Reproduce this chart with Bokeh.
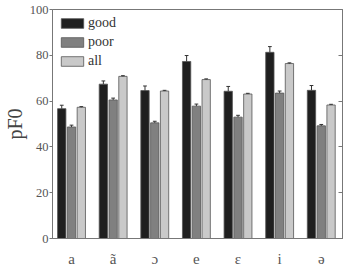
from bokeh.plotting import figure
from bokeh.models import Range1d, FixedTicker, LinearAxis, ColumnDataSource, Legend, LegendItem
from bokeh.embed import file_html
from bokeh.resources import INLINE

categories = ["a", "ã", "ɔ", "e", "ɛ", "i", "ə"]
good = [56.7, 67.4, 64.6, 77.3, 64.3, 81.3, 64.7]
poor = [48.7, 60.5, 50.5, 57.8, 53.0, 63.5, 49.2]
all_ = [57.3, 70.8, 64.4, 69.4, 63.1, 76.4, 58.3]
good_err = [1.5, 1.4, 2.0, 2.6, 2.1, 2.5, 2.1]
poor_err = [0.8, 0.8, 0.7, 0.9, 0.8, 0.9, 0.6]
all_err = [0.3, 0.3, 0.3, 0.3, 0.3, 0.3, 0.3]
series_names = ["good", "poor", "all"]
yticks = [0, 20, 40, 60, 80, 100]

FONT = "Liberation Serif"
TXT = "#555555"

p = figure(width=344, height=269, output_backend="svg", toolbar_location=None,
           x_range=Range1d(0.543, 7.51), y_range=Range1d(0, 100),
           min_border_left=52, min_border_right=2, min_border_top=9, min_border_bottom=29)
p.xgrid.visible = False
p.ygrid.visible = False
p.outline_line_color = "#777777"
p.outline_line_width = 1

xs = list(range(1, len(categories) + 1))
offsets = [-0.235, 0.0, 0.235]
fills = ["#1f1f1f", "#808080", "#c9c9c9"]
series = [good, poor, all_]
errs = [good_err, poor_err, all_err]
w = 0.2
capw = 0.045
items = []
for name, vals, err, off, col in zip(series_names, series, errs, offsets, fills):
    xx = [x + off for x in xs]
    src = ColumnDataSource(dict(x=xx, top=vals, up=[v + e for v, e in zip(vals, err)],
                                cl=[x - capw for x in xx], cr=[x + capw for x in xx]))
    r = p.vbar(x="x", top="top", width=w, bottom=0, source=src, fill_color=col,
               line_color="#555555", line_width=0.8)
    p.segment(x0="x", y0="top", x1="x", y1="up", source=src, line_color="#333333", line_width=1)
    p.segment(x0="cl", y0="up", x1="cr", y1="up", source=src, line_color="#333333", line_width=1)
    items.append(LegendItem(label=name, renderers=[r]))

legend = Legend(items=items, location="top_left", margin=6, padding=0, spacing=3,
                glyph_width=28, glyph_height=12, label_height=12,
                label_text_font=FONT, label_text_font_size="14px", label_text_color="#333333",
                label_standoff=2, border_line_color=None, background_fill_alpha=0)
p.add_layout(legend)

xa = p.xaxis[0]
xa.ticker = FixedTicker(ticks=xs)
xa.major_label_overrides = {x: c for x, c in zip(xs, categories)}
xa.major_tick_line_color = None
xa.major_tick_in = 0
xa.major_tick_out = 0
xa.minor_tick_line_color = None
xa.axis_line_color = "#777777"
xa.major_label_text_font = FONT
xa.major_label_text_font_size = "15px"
xa.major_label_text_color = TXT
xa.major_label_standoff = 12

ya = p.yaxis[0]
ya.ticker = FixedTicker(ticks=yticks)
ya.minor_tick_line_color = None
ya.axis_line_color = "#777777"
ya.major_tick_line_color = "#777777"
ya.major_tick_in = 0
ya.major_tick_out = 3
ya.major_label_text_font = FONT
ya.major_label_text_font_size = "12.5px"
ya.major_label_text_color = TXT
ya.major_label_standoff = 1
ya.axis_label = "pF0"
ya.axis_label_text_font = FONT
ya.axis_label_text_font_style = "normal"
ya.axis_label_text_font_size = "20px"
ya.axis_label_text_color = "#444444"
ya.axis_label_standoff = 1

ra = LinearAxis(ticker=FixedTicker(ticks=yticks), major_label_overrides={t: "" for t in yticks},
                major_label_standoff=0, major_tick_in=4, major_tick_out=0,
                minor_tick_line_color=None, axis_line_color="#777777",
                major_tick_line_color="#777777")
p.add_layout(ra, "right")

open("out.html", "w").write(file_html(p, INLINE))
